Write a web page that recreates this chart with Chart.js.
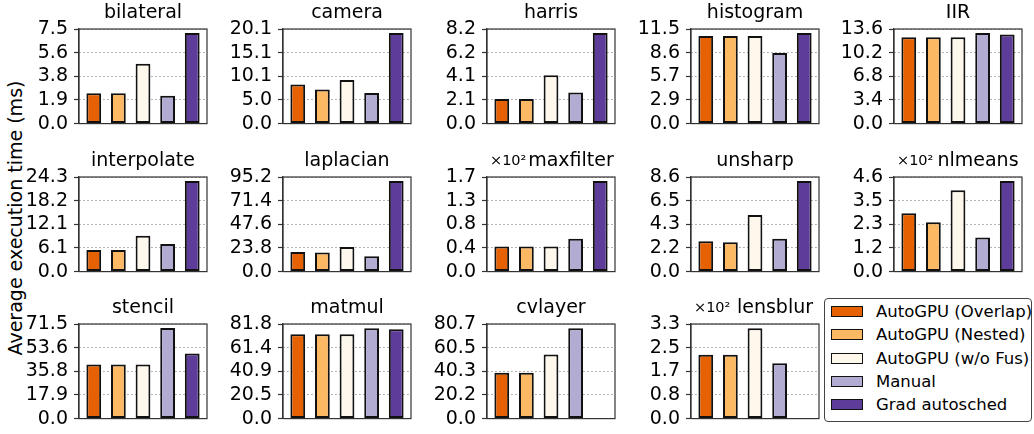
<!DOCTYPE html>
<html>
<head>
<meta charset="utf-8">
<script src="https://cdn.jsdelivr.net/npm/chart.js@4.4.1/dist/chart.umd.min.js"></script>
<style>
    body { margin: 0; background: #fff; font-family: 'DejaVu Sans', sans-serif; }
    #figure { position: relative; width: 1034px; height: 434px; overflow: hidden; }
    .panel { position: absolute; width: 192px; height: 144px; }
    #ylabel {
        position: absolute; left: 15px; top: 218px;
        transform: translate(-50%, -50%) rotate(-90deg);
        white-space: nowrap; font-size: 19px; color: #000;
    }
    #legend {
        position: absolute; left: 824px; top: 298px; width: 208px; height: 124px;
        box-sizing: border-box; border: 1.5px solid #444; border-radius: 4px;
        padding-top: 1px; background: #fff;
    }
    .legend-row { display: flex; align-items: center; height: 23.3px; font-size: 16.5px; color: #000; white-space: nowrap; }
    .legend-patch { flex: none; width: 32px; height: 11px; box-sizing: border-box; border: 1.5px solid #111; margin-left: 6px; margin-right: 13px; }
</style>
</head>
<body>
<div id="figure">
    <div id="ylabel">Average execution time (ms)</div>
    <div id="legend"></div>
</div>
<script>
const panelNames = ['bilateral', 'camera', 'harris', 'histogram', 'IIR',
    'interpolate', 'laplacian', 'maxfilter', 'unsharp', 'nlmeans',
    'stencil', 'matmul', 'cvlayer', 'lensblur'];
const seriesNames = ['AutoGPU (Overlap)', 'AutoGPU (Nested)', 'AutoGPU (w/o Fus)', 'Manual', 'Grad autosched'];

// execution times in ms, one entry per panel
const overlapTimes = [2.40, 8.30, 2.14, 10.66, 12.42, 5.57, 19.8, 45, 2.75, 284, 40.8, 73.0, 39.1, 223];
const nestedTimes = [2.40, 7.26, 2.14, 10.66, 12.42, 5.57, 19.2, 45, 2.66, 240, 40.8, 73.0, 39.1, 223];
const noFusionTimes = [4.74, 9.28, 4.19, 10.66, 12.42, 9.20, 24.8, 45, 5.14, 395, 40.8, 73.0, 54.7, 315];
const manualTimes = [2.21, 6.49, 2.70, 8.58, 13.03, 7.09, 15.5, 59, 2.99, 166, 68.5, 78.1, 77.1, 193];
const gradTimes = [7.19, 19.26, 7.86, 11.02, 12.80, 23.29, 91.2, 163, 8.24, 441, 49.2, 77.3, null, null];

// y tick labels, bottom to top, and the power of ten shown above the axis
const yTickLabels = [
    ['0.0', '1.9', '3.8', '5.6', '7.5'],
    ['0.0', '5.0', '10.1', '15.1', '20.1'],
    ['0.0', '2.1', '4.1', '6.2', '8.2'],
    ['0.0', '2.9', '5.7', '8.6', '11.5'],
    ['0.0', '3.4', '6.8', '10.2', '13.6'],
    ['0.0', '6.1', '12.1', '18.2', '24.3'],
    ['0.0', '23.8', '47.6', '71.4', '95.2'],
    ['0.0', '0.4', '0.8', '1.3', '1.7'],
    ['0.0', '2.2', '4.3', '6.5', '8.6'],
    ['0.0', '1.2', '2.3', '3.5', '4.6'],
    ['0.0', '17.9', '35.8', '53.6', '71.5'],
    ['0.0', '20.5', '40.9', '61.4', '81.8'],
    ['0.0', '20.2', '40.3', '60.5', '80.7'],
    ['0.0', '0.8', '1.7', '2.5', '3.3'],
];
const yExponents = [0, 0, 0, 0, 0, 0, 0, 2, 0, 2, 0, 0, 0, 2];

const seriesColors = ['#e66101', '#fdb863', '#fef8ec', '#b2abd2', '#5e3c99'];
const colX = [79, 283, 487, 691, 894];
const rowY = [29, 177, 324];
const axisW = 60;
const padTop = 32;

Chart.defaults.font.family = "'DejaVu Sans', sans-serif";
Chart.defaults.color = '#000';

const panelDecor = {
    id: 'panelDecor',
    afterDraw(chart, args, opts) {
        const { ctx, chartArea: a } = chart;

        ctx.save();
        ctx.strokeStyle = '#333';
        ctx.lineWidth = 1.2;
        ctx.strokeRect(a.left, a.top, a.right - a.left, a.bottom - a.top);

        ctx.fillStyle = '#000';
        ctx.textBaseline = 'alphabetic';
        ctx.textAlign = 'center';
        ctx.font = "19px 'DejaVu Sans'";
        const shift = opts.exponent ? 20 : 0;
        ctx.fillText(opts.title, (a.left + a.right) / 2 + shift, a.top - 11);

        if (opts.exponent) {
            ctx.textAlign = 'left';
            ctx.font = "14.5px 'DejaVu Sans'";
            ctx.fillText('×10²', a.left + 3, a.top - 12);
        }
        ctx.restore();
    },
};

const figure = document.getElementById('figure');

panelNames.forEach((name, p) => {
    const col = p % 5;
    const row = Math.floor(p / 5);
    const holder = document.createElement('div');
    holder.className = 'panel';
    holder.style.left = (colX[col] - axisW) + 'px';
    holder.style.top = (rowY[row] - padTop) + 'px';
    const canvas = document.createElement('canvas');
    holder.append(canvas);
    figure.append(holder);

    const scale = Math.pow(10, yExponents[p]);
    const labels = yTickLabels[p];
    const yMax = Number(labels[4]);
    const times = [overlapTimes[p], nestedTimes[p], noFusionTimes[p], manualTimes[p], gradTimes[p]];

    new Chart(canvas, {
        type: 'bar',
        data: {
            labels: seriesNames,
            datasets: [{
                data: times.map((t, i) => ({ x: i, y: t === null ? null : t / scale })),
                backgroundColor: seriesColors,
                borderColor: '#111',
                borderWidth: 2,
                borderSkipped: false,
                barPercentage: 0.6,
                categoryPercentage: 1,
            }],
        },
        options: {
            animation: false,
            responsive: true,
            maintainAspectRatio: false,
            layout: { padding: { top: padTop, right: 4, bottom: 16, left: 0 } },
            plugins: {
                legend: { display: false },
                tooltip: { enabled: false },
                panelDecor: { title: name, exponent: yExponents[p] },
            },
            scales: {
                x: { type: 'linear', min: -0.6, max: 4.6, offset: false, display: false },
                y: {
                    min: 0,
                    max: yMax,
                    afterFit: (s) => { s.width = axisW; },
                    afterBuildTicks: (s) => {
                        s.ticks = [0, 1, 2, 3, 4].map((i) => ({ value: yMax * i / 4 }));
                    },
                    ticks: {
                        autoSkip: false,
                        callback: (v, i) => labels[i],
                        color: '#000',
                        font: { size: 19 },
                        padding: 6,
                    },
                    grid: {
                        color: '#9a9a9a',
                        lineWidth: 1,
                        tickLength: 5,
                        tickColor: '#333',
                        tickWidth: 1.2,
                        tickBorderDash: [],
                    },
                    border: { display: true, color: '#333', width: 1.2, dash: [1.5, 2.5] },
                },
            },
        },
        plugins: [panelDecor],
    });
});

const legend = document.getElementById('legend');
seriesNames.forEach((label, i) => {
    const row = document.createElement('div');
    row.className = 'legend-row';
    const patch = document.createElement('span');
    patch.className = 'legend-patch';
    patch.style.background = seriesColors[i];
    row.append(patch, document.createTextNode(label));
    legend.append(row);
});
</script>
</body>
</html>
